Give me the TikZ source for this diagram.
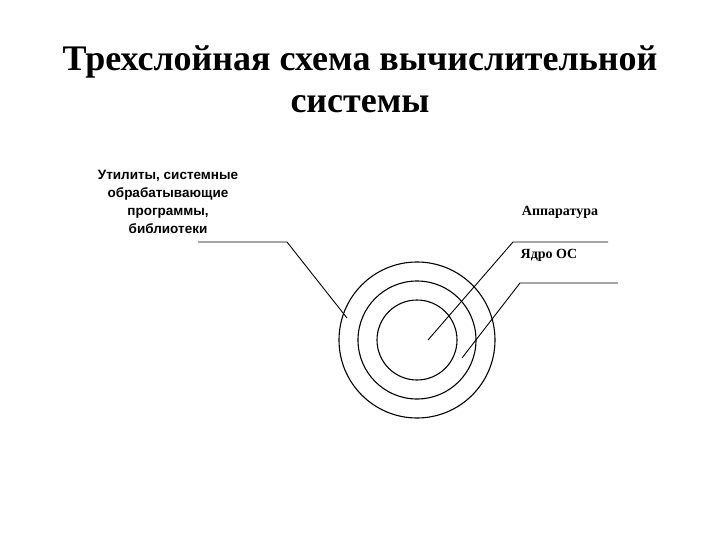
\documentclass[tikz,border=0pt]{standalone}
\usepackage{fontspec}
\setmainfont{Liberation Serif}
\newfontfamily\arial{Liberation Sans}
\begin{document}
\begin{tikzpicture}[x=1pt,y=-1pt,
  ring/.style={draw,line width=1.1pt},
  lead/.style={draw,line width=0.9pt},
  lbl/.style={font=\bfseries\fontsize{14}{16}\selectfont, inner sep=0pt}]
\useasboundingbox (0,0) rectangle (720,540);
\node[font=\bfseries\fontsize{36}{42}\selectfont, align=center] (title) at (360,79) {Трехслойная схема вычислительной\\системы};
\node[font=\arial\bfseries\fontsize{13.5}{18}\selectfont, align=center] (util) at (168,202) {Утилиты, системные\\обрабатывающие\\программы,\\библиотеки};
\node[lbl] (hw) at (560,212) {Аппаратура};
\node[lbl] (core) at (549,255) {Ядро ОС};
\coordinate (c) at (417,340);
\draw[ring] (c) circle (78);
\draw[ring] (c) circle (59);
\draw[ring] (c) circle (40);
\coordinate (l0) at (198,242); \coordinate (l1) at (287,242); \coordinate (l2) at (347,318);
\coordinate (a0) at (608,242); \coordinate (a1) at (513,242); \coordinate (a2) at (428,340);
\coordinate (b0) at (618,283); \coordinate (b1) at (520,283); \coordinate (b2) at (462,358);
\draw[lead] (l0) -- (l1) -- (l2);
\draw[lead] (a0) -- (a1) -- (a2);
\draw[lead] (b0) -- (b1) -- (b2);
\end{tikzpicture}
\end{document}
